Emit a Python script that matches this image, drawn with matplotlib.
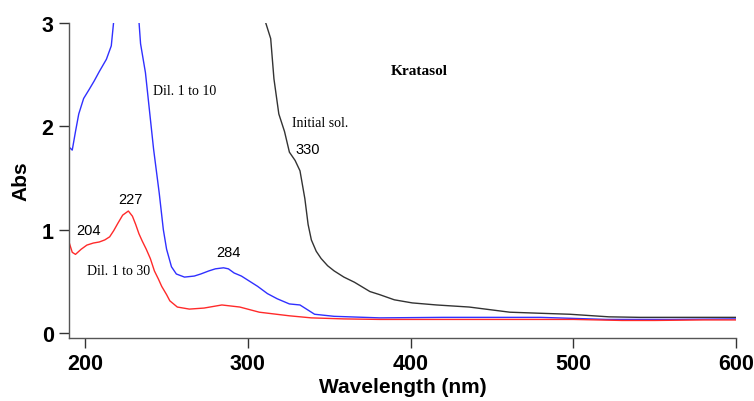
import numpy as np
import matplotlib
matplotlib.use('Agg')
import matplotlib.pyplot as plt

# Espectros (longitud de onda en nm, absorbancia)
wl_dil10 = [190, 192, 194, 196, 199, 202.5, 205.5, 208.6, 213, 216, 217.5, 225, 233, 234, 237,
            239.5, 242, 245.5, 248, 250, 253, 256, 261, 267, 271, 276, 280, 285, 288, 291.5,
            296, 301, 306, 312, 318, 325.5, 332, 336, 341, 353, 381, 420, 480, 520, 560, 600]
abs_dil10 = [1.80, 1.77, 1.95, 2.12, 2.27, 2.36, 2.44, 2.53, 2.65, 2.78, 3.02, 3.5, 3.02, 2.80, 2.52,
             2.15, 1.78, 1.35, 1.00, 0.81, 0.64, 0.57, 0.54, 0.55, 0.57, 0.60, 0.62, 0.63, 0.62, 0.58,
             0.55, 0.50, 0.45, 0.38, 0.33, 0.28, 0.27, 0.23, 0.18, 0.16, 0.145, 0.15, 0.15, 0.13,
             0.13, 0.135]

wl_dil30 = [190, 192, 194, 197.5, 201, 205, 208.6, 212, 215, 217.5, 220, 223, 226.5, 229, 231,
            233, 235, 237.5, 240, 242.5, 245, 247, 250, 252, 256.6, 264, 273, 284, 295, 307,
            325.5, 339, 359, 381, 450, 500, 530, 550, 580, 600]
abs_dil30 = [0.88, 0.78, 0.76, 0.81, 0.85, 0.87, 0.88, 0.90, 0.93, 0.99, 1.06, 1.14, 1.18, 1.13, 1.05,
             0.96, 0.89, 0.81, 0.72, 0.60, 0.52, 0.45, 0.37, 0.31, 0.25, 0.23, 0.24, 0.27, 0.25, 0.20,
             0.165, 0.145, 0.135, 0.13, 0.13, 0.13, 0.12, 0.12, 0.125, 0.125]

wl_init = [305, 311, 314, 316, 319, 322.5, 325.5, 329, 332, 335, 337, 339, 342, 345, 349, 353,
           359, 365.5, 375, 381, 390, 401, 416, 436, 461, 479, 498, 522, 541, 600]
abs_init = [3.6, 3.0, 2.85, 2.46, 2.12, 1.95, 1.75, 1.67, 1.57, 1.30, 1.05, 0.90, 0.79, 0.72, 0.65,
            0.60, 0.54, 0.49, 0.40, 0.37, 0.32, 0.29, 0.27, 0.25, 0.20, 0.19, 0.18, 0.155, 0.15, 0.15]

xticks = [200, 300, 400, 500, 600]
yticks = [0, 1, 2, 3]

plt.rcParams['font.family'] = ['Liberation Sans', 'DejaVu Sans']

fig = plt.figure(figsize=(7.54, 4.02), dpi=100)
ax = fig.add_axes([0.0915, 0.1567, 0.8845, 0.7833])

ax.plot(wl_init, abs_init, color='#333333', lw=1.0)
ax.plot(wl_dil10, abs_dil10, color='#3030ff', lw=1.0)
ax.plot(wl_dil30, abs_dil30, color='#ff2a2a', lw=1.0)

ax.set_xlim(190, 600)
ax.set_ylim(-0.05, 3.0)
ax.set_xticks(xticks)
ax.set_yticks(yticks)
ax.tick_params(direction='out', length=7, width=1, pad=4, labelsize=15.5, colors='#333333',
               labelcolor='black')
for lbl in ax.get_xticklabels() + ax.get_yticklabels():
    lbl.set_fontweight('bold')
for s in ['top', 'right']:
    ax.spines[s].set_visible(False)
for s in ['left', 'bottom']:
    ax.spines[s].set_color('#555555')
    ax.spines[s].set_linewidth(1.0)

ax.set_xlabel('Wavelength (nm)', fontsize=15, fontweight='bold', labelpad=2)
ax.set_ylabel('Abs', fontsize=15, fontweight='bold', labelpad=8)

# Anotaciones
serif = ['Liberation Serif', 'DejaVu Serif']
ax.text(405.5, 2.54, 'Kratasol', family=serif, fontweight='bold', fontsize=11,
        ha='center', va='center')
ax.text(241.8, 2.35, 'Dil. 1 to 10', family=serif, fontsize=10, ha='left', va='center')
ax.text(327.4, 2.04, 'Initial sol.', family=serif, fontsize=10, ha='left', va='center')
ax.text(201, 0.60, 'Dil. 1 to 30', family=serif, fontsize=10, ha='left', va='center')

ax.text(337, 1.78, '330', fontsize=10.5, ha='center', va='center')
ax.text(228, 1.30, '227', fontsize=10.5, ha='center', va='center')
ax.text(202, 1.00, '204', fontsize=10.5, ha='center', va='center')
ax.text(288, 0.78, '284', fontsize=10.5, ha='center', va='center')

fig.savefig('out.png', dpi=100)
